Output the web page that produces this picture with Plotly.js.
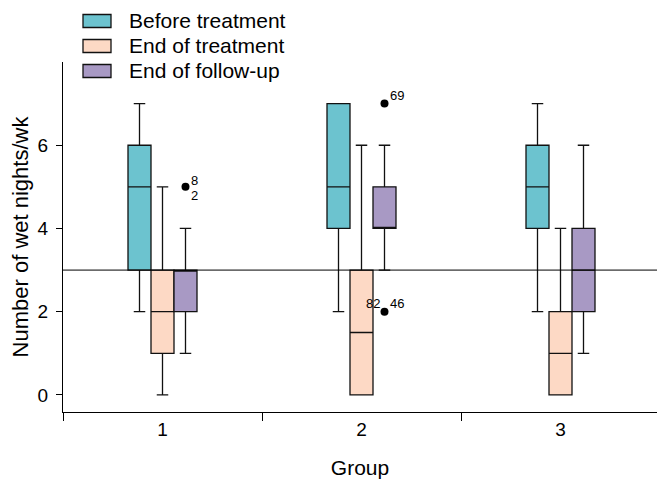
<!DOCTYPE html>
<html>
<head>
<meta charset="utf-8">
<script src="https://cdn.plot.ly/plotly-3.0.1.min.js"></script>
<style>html,body{margin:0;padding:0;background:#fff;}#chart{width:657px;height:479px;}</style>
</head>
<body>
<div id="chart"></div>
<script>
// ---- data ----
var groups = [1, 2, 3];
var groupLabels = ['1', '2', '3'];
var seriesNames = ['Before treatment', 'End of treatment', 'End of follow-up'];
var seriesColors = ['#6cc3cf', '#fdd9c5', '#a899c4'];

var beforeQ1 = [3, 4, 4];
var beforeMedian = [5, 5, 5];
var beforeQ3 = [6, 7, 6];
var beforeLower = [2, 2, 2];
var beforeUpper = [7, 7, 7];

var endQ1 = [1, 0, 0];
var endMedian = [2, 1.5, 1];
var endQ3 = [3, 3, 2];
var endLower = [0, 0, 0];
var endUpper = [5, 6, 4];

var followQ1 = [2, 4, 2];
var followMedian = [3, 4, 3];
var followQ3 = [3, 5, 4];
var followLower = [1, 3, 1];
var followUpper = [4, 6, 6];

// outliers (all in End of follow-up series)
var outlierGroup = [1, 2, 2];
var outlierSeries = [2, 2, 2];
var outlierValue = [5, 7, 2];
var outlierLabelsRight = [['8', '2'], ['69'], ['46']];
var outlierLabelsLeft = [[], [], ['82']];

var referenceLine = 3;

// ---- layout helpers ----
var boxW = 23 / 199;
function pos(seriesIdx, g) { return g + (seriesIdx - 1) * boxW; }

var stats = [
  [beforeQ1, beforeMedian, beforeQ3, beforeLower, beforeUpper],
  [endQ1, endMedian, endQ3, endLower, endUpper],
  [followQ1, followMedian, followQ3, followLower, followUpper]
];

var traces = [];
stats.forEach(function (s, i) {
  traces.push({
    type: 'box',
    name: seriesNames[i],
    x: groups.map(function (g) { return pos(i, g); }),
    q1: s[0], median: s[1], q3: s[2], lowerfence: s[3], upperfence: s[4],
    width: boxW,
    whiskerwidth: 0.5,
    fillcolor: seriesColors[i],
    line: {color: '#111', width: 1.3},
    boxpoints: false,
    hoverinfo: 'skip',
    showlegend: false
  });
});

var ox = outlierGroup.map(function (g, k) { return pos(outlierSeries[k], g); });
traces.push({
  type: 'scatter', mode: 'markers',
  x: ox, y: outlierValue,
  marker: {color: '#000', size: 8},
  hoverinfo: 'skip', showlegend: false
});

var annotations = [];
var lblFont = {size: 13, color: '#000'};
outlierValue.forEach(function (v, k) {
  var r = outlierLabelsRight[k];
  if (r.length === 2) {
    annotations.push({x: ox[k], y: v, text: r[0], showarrow: false, xanchor: 'left', yanchor: 'middle', xshift: 3, yshift: 6, font: lblFont});
    annotations.push({x: ox[k], y: v, text: r[1], showarrow: false, xanchor: 'left', yanchor: 'middle', xshift: 3, yshift: -9, font: lblFont});
  } else if (r.length === 1) {
    annotations.push({x: ox[k], y: v, text: r[0], showarrow: false, xanchor: 'left', yanchor: 'middle', xshift: 3, yshift: 8, font: lblFont});
  }
  var l = outlierLabelsLeft[k];
  if (l.length === 1) {
    annotations.push({x: ox[k], y: v, text: l[0], showarrow: false, xanchor: 'right', yanchor: 'middle', xshift: -3, yshift: 8, font: lblFont});
  }
});

// custom legend
var shapes = [{type: 'line', xref: 'paper', x0: 0, x1: 1, yref: 'y', y0: referenceLine, y1: referenceLine, line: {color: '#000', width: 1}}];
var plotL = 63, plotW = 594, plotB = 412, plotH = 350;
function px2x(p) { return (p - plotL) / plotW; }
function px2y(p) { return (plotB - p) / plotH; }
var legendCenters = [21, 46, 71];
seriesNames.forEach(function (n, i) {
  var cy = legendCenters[i];
  shapes.push({type: 'rect', xref: 'paper', yref: 'paper', x0: px2x(83), x1: px2x(111), y0: px2y(cy + 6.5), y1: px2y(cy - 6.5), fillcolor: seriesColors[i], line: {color: '#111', width: 1.3}});
  annotations.push({xref: 'paper', yref: 'paper', x: px2x(127), y: px2y(cy), text: n, showarrow: false, xanchor: 'left', yanchor: 'middle', font: {size: 21, color: '#000'}});
});

var layout = {
  width: 657, height: 479,
  margin: {l: plotL, r: 0, t: 62, b: 67, pad: 0},
  paper_bgcolor: '#fff', plot_bgcolor: '#fff',
  font: {family: 'Liberation Sans, Arial, sans-serif', color: '#000'},
  boxmode: 'overlay',
  showlegend: false,
  xaxis: {
    range: [0.5, 0.5 + plotW / 199],
    tickvals: groups, ticktext: groupLabels,
    ticks: '', showgrid: false, zeroline: false,
    showline: true, linecolor: '#000', linewidth: 1,
    tickfont: {size: 19},
    minor: {tickvals: [0.5, 1.5, 2.5], ticks: 'outside', ticklen: 8, tickcolor: '#000', showgrid: false},
    title: {text: 'Group', font: {size: 21}, standoff: 24}
  },
  yaxis: {
    range: [-0.41, 8],
    tickvals: [0, 2, 4, 6],
    ticks: 'outside', ticklen: 6, tickcolor: '#000',
    ticklabelstandoff: 4,
    showgrid: false, zeroline: false,
    showline: true, linecolor: '#000', linewidth: 1,
    tickfont: {size: 19},
    title: {text: 'Number of wet nights/wk', font: {size: 22}, standoff: 2}
  },
  shapes: shapes,
  annotations: annotations
};

Plotly.newPlot('chart', traces, layout, {displayModeBar: false, staticPlot: true});
</script>
</body>
</html>
